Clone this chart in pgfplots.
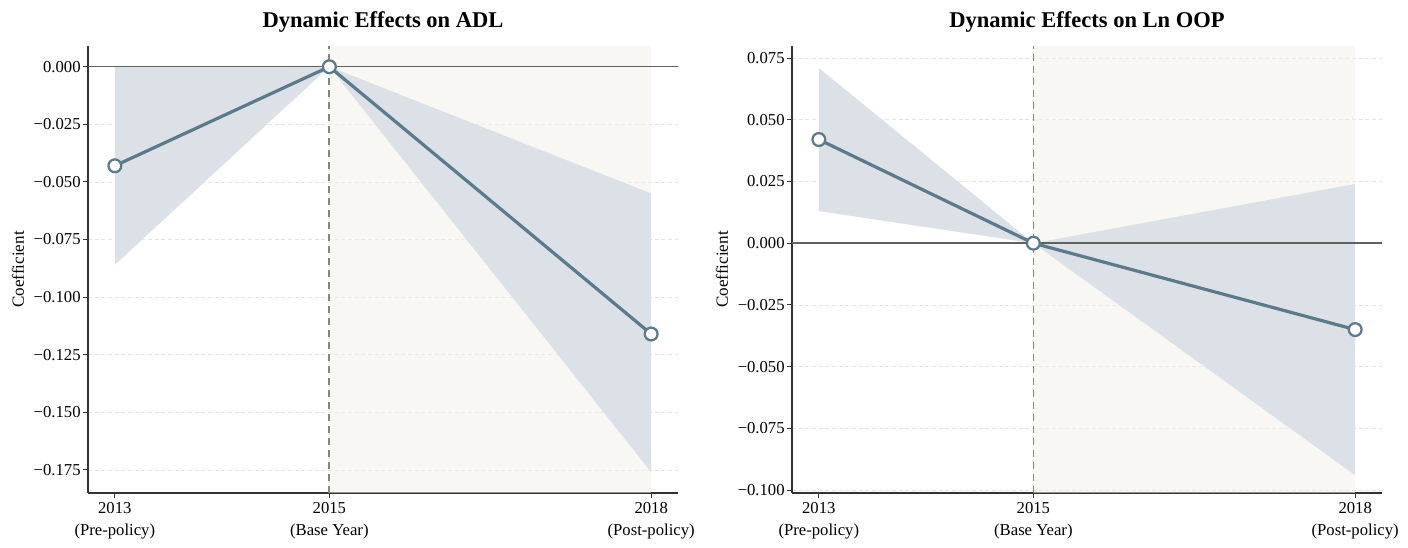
\documentclass[border=0pt]{standalone}
\usepackage{pgfplots}
\pgfplotsset{compat=1.18}
\usepgfplotslibrary{fillbetween}
\usepackage{fontspec}
\setmainfont{Liberation Serif}
\definecolor{linec}{HTML}{5B7B8A}
\definecolor{bandc}{HTML}{DCE1E7}
\definecolor{shadec}{HTML}{F1EFE9}
\definecolor{gridc}{HTML}{E3E3E3}
\definecolor{spinec}{HTML}{333333}
\pgfplotsset{
 evstyle/.style={
  width=442.5pt, height=335.25pt, scale only axis,
  xmin=2012.75, xmax=2018.25,
  axis x line*=bottom, axis y line*=left,
  axis line style={-, color=spinec, line width=0.8pt},
  xtick={2013,2015,2018},
  xticklabels={{2013\\(Pre-policy)},{2015\\(Base Year)},{2018\\(Post-policy)}},
  xticklabel style={align=center, font=\fontsize{12.5}{16.5}\selectfont},
  yticklabel style={font=\fontsize{12.5}{13.5}\selectfont, xshift=1.5pt},
  tick align=outside, major tick length=3.5pt,
  tick style={color=spinec, line width=0.8pt},
  ymajorgrids, grid style={gridc, dash pattern=on 3pt off 2pt, line width=0.6pt},
  ylabel={Coefficient},
  ylabel style={font=\fontsize{12.8}{14}\selectfont, at={(axis description cs:-0.1186,0.5)}, anchor=center},
  title style={font=\bfseries\fontsize{16.9}{18}\selectfont, at={(axis description cs:0.5,1)}, anchor=base, yshift=8pt},
 },
 meanline/.style={linec, line width=2.4pt, mark=*, mark size=4.8pt, mark options={fill=white, draw=linec, line width=1.7pt}},
 zeroline/.style={color=black!62, line width=1.1pt},
 vline/.style={color=black!48, line width=1.3pt, dash pattern=on 5.5pt off 3.5pt},
}
\begin{document}
\begin{tikzpicture}
% ---------------- Left panel ----------------
\begin{axis}[evstyle, at={(66pt,41.25pt)}, anchor=south west,
  ymin=-0.185, ymax=0.009,
  ytick={-0.175,-0.15,-0.125,-0.1,-0.075,-0.05,-0.025,0},
  yticklabels={−0.175,−0.150,−0.125,−0.100,−0.075,−0.050,−0.025,0.000},
  title={Dynamic Effects on ADL}]
\addplot[name path=shA1, draw=none] coordinates {(2015,0.009) (2018,0.009)};
\addplot[name path=shA2, draw=none] coordinates {(2015,-0.185) (2018,-0.185)};
\addplot[shadec, fill opacity=0.5] fill between[of=shA1 and shA2];
\addplot[name path=upA, draw=none] coordinates {(2013,0) (2015,0) (2018,-0.055)};
\addplot[name path=loA, draw=none] coordinates {(2013,-0.086) (2015,0) (2018,-0.176)};
\addplot[bandc] fill between[of=upA and loA];
\addplot[zeroline] coordinates {(2012.75,0) (2018.25,0)};
\addplot[vline] coordinates {(2015,-0.185) (2015,0.009)};
\addplot[meanline] coordinates {(2013,-0.043) (2015,0) (2018,-0.116)};
\end{axis}
% ---------------- Right panel ----------------
\begin{axis}[evstyle, at={(594pt,41.25pt)}, anchor=south west,
  ymin=-0.1012, ymax=0.0799,
  ytick={-0.1,-0.075,-0.05,-0.025,0,0.025,0.05,0.075},
  yticklabels={−0.100,−0.075,−0.050,−0.025,0.000,0.025,0.050,0.075},
  title={Dynamic Effects on Ln OOP}]
\addplot[name path=shB1, draw=none] coordinates {(2015,0.0799) (2018,0.0799)};
\addplot[name path=shB2, draw=none] coordinates {(2015,-0.1012) (2018,-0.1012)};
\addplot[shadec, fill opacity=0.5] fill between[of=shB1 and shB2];
\addplot[name path=upB, draw=none] coordinates {(2013,0.071) (2015,0) (2018,0.024)};
\addplot[name path=loB, draw=none] coordinates {(2013,0.013) (2015,0) (2018,-0.094)};
\addplot[bandc] fill between[of=upB and loB];
\addplot[zeroline] coordinates {(2012.75,0) (2018.25,0)};
\addplot[vline] coordinates {(2015,-0.1012) (2015,0.0799)};
\addplot[meanline] coordinates {(2013,0.042) (2015,0) (2018,-0.035)};
\end{axis}
\pgfresetboundingbox
\path (0,0) rectangle (1056pt,411pt);
\end{tikzpicture}
\end{document}
